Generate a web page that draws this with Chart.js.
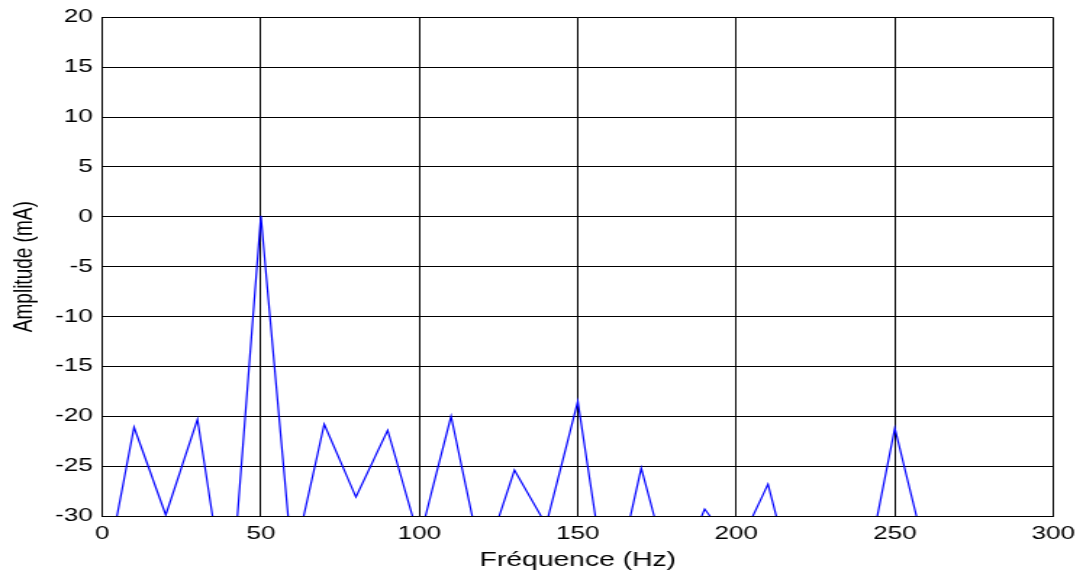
<!DOCTYPE html>
<html>
<head>
<meta charset="utf-8">
<script src="https://cdn.jsdelivr.net/npm/chart.js@4/dist/chart.umd.min.js"></script>
<style>
  html, body { margin: 0; padding: 0; background: #fff; overflow: hidden; }
  /* the spectrum plot is drawn narrow and widened horizontally */
  #wrap { width: 747px; height: 571px; transform: scaleX(1.4498); transform-origin: 0 0; }
  canvas { display: block; }
</style>
</head>
<body>
<div id="wrap"><canvas id="c" width="747" height="571"></canvas></div>
<script>
// Spectrum samples, every 10 Hz
const frequencies = [0, 10, 20, 30, 40, 50, 60, 70, 80, 90, 100, 110, 120, 130, 140, 150,
                     160, 170, 180, 190, 200, 210, 220, 230, 240, 250, 260, 270, 280, 290, 300];
const amplitudes = [-37.6, -21.1, -29.9, -20.3, -40.7, 0.1, -35.0, -20.8, -28.1, -21.4, -32.4,
                    -20.0, -35.0, -25.4, -30.9, -18.5, -39.4, -25.2, -37.0, -29.3, -33.5,
                    -26.8, -39.1, -41.0, -37.2, -21.2, -34.1, -38.0, -36.5, -40.0, -37.5];
const xTicks = [0, 50, 100, 150, 200, 250, 300];
const yTicks = [-30, -25, -20, -15, -10, -5, 0, 5, 10, 15, 20];

const FONT = '"Liberation Sans", Arial, Helvetica, sans-serif';

const points = frequencies.map((f, i) => ({ x: f, y: amplitudes[i] }));

new Chart(document.getElementById('c'), {
  type: 'line',
  data: {
    datasets: [{
      data: points,
      borderColor: '#0000ff',
      borderWidth: 1.2,
      pointRadius: 0,
      tension: 0,
      fill: false,
      clip: 0
    }]
  },
  options: {
    responsive: false,
    devicePixelRatio: 1,
    animation: false,
    layout: { padding: { left: 0, right: 20.5, top: 15.3, bottom: 0 } },
    plugins: { legend: { display: false }, tooltip: { enabled: false } },
    scales: {
      x: {
        type: 'linear',
        min: xTicks[0],
        max: xTicks[xTicks.length - 1],
        afterBuildTicks: s => { s.ticks = xTicks.map(v => ({ value: v })); },
        afterFit: s => { s.height = 55; s.paddingLeft = 0; s.paddingRight = 0; },
        grid: { color: '#000', lineWidth: 1, drawTicks: false },
        border: { color: '#000', width: 1 },
        ticks: { color: '#000', padding: 7, maxRotation: 0, font: { family: FONT, size: 18 } },
        title: {
          display: true, text: 'Fréquence (Hz)', color: '#000',
          font: { family: FONT, size: 19.5, lineHeight: 1.1 },
          padding: { top: 0, bottom: 0 }
        }
      },
      y: {
        type: 'linear',
        min: yTicks[0],
        max: yTicks[yTicks.length - 1],
        afterBuildTicks: s => { s.ticks = yTicks.map(v => ({ value: v })); },
        afterFit: s => { s.width = 70.6; },
        grid: { color: '#000', lineWidth: 1, drawTicks: false },
        border: { color: '#000', width: 1 },
        ticks: { color: '#000', padding: 6.6, font: { family: FONT, size: 18 } },
        title: {
          display: true, text: 'Amplitude (mA)', color: '#000',
          font: { family: FONT, size: 19, lineHeight: 1.2 },
          padding: { top: 5, bottom: 0 }
        }
      }
    }
  }
});
</script>
</body>
</html>
